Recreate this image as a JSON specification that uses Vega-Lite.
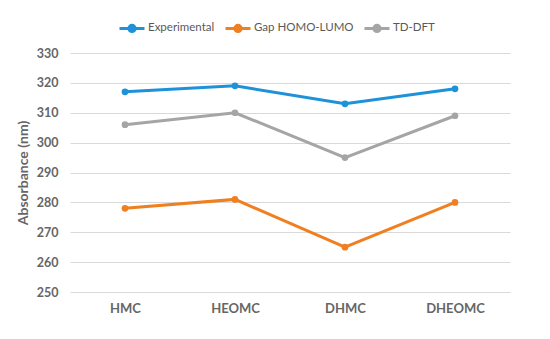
{
  "$schema": "https://vega.github.io/schema/vega-lite/v6.json",
  "autosize": {"type": "none"},
  "width": 440,
  "height": 239,
  "padding": {"left": 70, "top": 53, "right": 40, "bottom": 47},
  "background": "white",
  "data": {"values": [
    {"compound": "HMC", "series": "Experimental", "value": 317},
    {"compound": "HEOMC", "series": "Experimental", "value": 319},
    {"compound": "DHMC", "series": "Experimental", "value": 313},
    {"compound": "DHEOMC", "series": "Experimental", "value": 318},
    {"compound": "HMC", "series": "Gap HOMO-LUMO", "value": 278},
    {"compound": "HEOMC", "series": "Gap HOMO-LUMO", "value": 281},
    {"compound": "DHMC", "series": "Gap HOMO-LUMO", "value": 265},
    {"compound": "DHEOMC", "series": "Gap HOMO-LUMO", "value": 280},
    {"compound": "HMC", "series": "TD-DFT", "value": 306},
    {"compound": "HEOMC", "series": "TD-DFT", "value": 310},
    {"compound": "DHMC", "series": "TD-DFT", "value": 295},
    {"compound": "DHEOMC", "series": "TD-DFT", "value": 309}
  ]},
  "config": {
    "view": {"stroke": null},
    "font": "Lato"
  },
  "mark": {"type": "line", "strokeWidth": 3, "point": {"size": 45, "filled": true, "opacity": 1}},
  "encoding": {
    "x": {
      "field": "compound", "type": "nominal",
      "sort": ["HMC", "HEOMC", "DHMC", "DHEOMC"],
      "scale": {"paddingInner": 0, "paddingOuter": 0.5},
      "axis": {
        "title": null, "labelAngle": 0, "labelFontSize": 13, "labelFontWeight": "bold",
        "labelColor": "#666666", "labelPadding": 10, "ticks": false, "domain": false, "grid": false
      }
    },
    "y": {
      "field": "value", "type": "quantitative",
      "scale": {"domain": [250, 330], "nice": false, "zero": false},
      "axis": {
        "title": "Absorbance (nm)", "titleFontSize": 14, "titleFontWeight": "bold",
        "titleColor": "#666666", "titlePadding": 6,
        "values": [250, 260, 270, 280, 290, 300, 310, 320, 330],
        "labelFontSize": 12.5, "labelFontWeight": "bold", "labelColor": "#666666",
        "labelPadding": 12, "ticks": false, "domain": false,
        "gridColor": "#d9d9d9", "gridWidth": 1
      }
    },
    "color": {
      "field": "series", "type": "nominal",
      "scale": {"domain": ["Experimental", "Gap HOMO-LUMO", "TD-DFT"], "range": ["#1E92D9", "#F07F22", "#A5A5A5"]},
      "legend": {
        "title": null, "orient": "none", "direction": "horizontal",
        "legendX": 48, "legendY": -39,
        "labelFontSize": 11.5, "labelColor": "#595959",
        "symbolType": "M-1,0H-0.25M0.25,0H1M0.25,0A0.25,0.25 0 1,1 -0.25,0A0.25,0.25 0 1,1 0.25,0",
        "symbolSize": 625, "symbolStrokeWidth": 3, "columnPadding": 4, "labelOffset": 2
      }
    }
  }
}
